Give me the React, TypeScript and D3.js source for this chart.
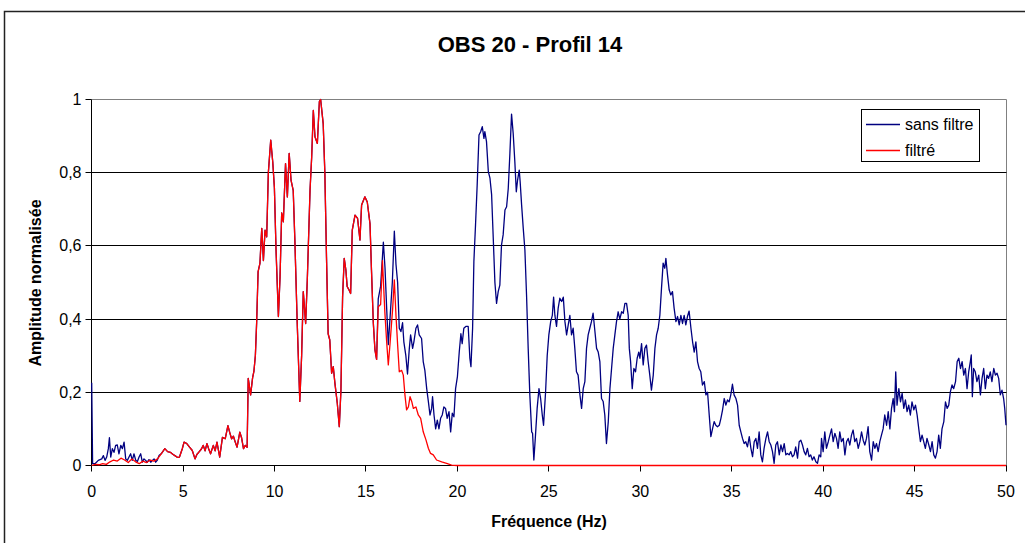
import React from 'react';
import * as d3 from 'd3';

const TITLE = 'OBS 20 - Profil 14';
const X_TITLE = 'Fréquence (Hz)';
const Y_TITLE = 'Amplitude normalisée';
const SERIES_NAMES = ['sans filtre', 'filtré'];
const xTicks = [0, 5, 10, 15, 20, 25, 30, 35, 40, 45, 50];
const yTicks = [0, 0.2, 0.4, 0.6, 0.8, 1];
const yTickLabels = ['0', '0,2', '0,4', '0,6', '0,8', '1'];

// [frequency (Hz), normalised amplitude]
const blueLow: [number, number][] = [
  [0, 0.226], [0.05, 0.005], [0.18, 0.005], [0.36, 0.014], [0.55, 0.018], [0.64, 0.027], [0.73, 0.014],
  [0.82, 0.023], [0.91, 0.046], [0.97, 0.076], [1.04, 0.023], [1.13, 0.046], [1.22, 0.036], [1.31, 0.055],
  [1.4, 0.056], [1.49, 0.032], [1.59, 0.055], [1.68, 0.046], [1.77, 0.064], [1.86, 0.018], [1.95, 0.014],
  [2.04, 0.023], [2.13, 0.032], [2.22, 0.014], [2.31, 0.032], [2.41, 0.014], [2.5, 0.011], [2.59, 0.023],
  [2.68, 0.032], [2.77, 0.009], [2.86, 0.018], [2.95, 0.014], [3.04, 0.009], [3.13, 0.016], [3.23, 0.009],
  [3.32, 0.014], [3.41, 0.018], [3.5, 0.009], [3.59, 0.015], [3.68, 0.027],
];

const redLow: [number, number][] = [
  [0, 0], [0.2, 0.003], [0.4, 0.002], [0.6, 0.005], [0.8, 0.003], [1.0, 0.01], [1.2, 0.015], [1.4, 0.012],
  [1.6, 0.02], [1.8, 0.015], [2.0, 0.008], [2.2, 0.018], [2.4, 0.01], [2.6, 0.005], [2.8, 0.012],
  [3.0, 0.008], [3.2, 0.015], [3.4, 0.012], [3.6, 0.018],
];

// band where both curves coincide
const commonBand: [number, number][] = [
  [3.8, 0.032], [4.0, 0.046], [4.15, 0.038], [4.3, 0.036], [4.45, 0.03], [4.55, 0.027], [4.7, 0.022],
  [4.8, 0.023], [4.95, 0.045], [5.05, 0.064], [5.2, 0.06], [5.35, 0.05], [5.5, 0.041], [5.65, 0.018],
  [5.75, 0.03], [5.85, 0.036], [6.0, 0.045], [6.1, 0.055], [6.2, 0.04], [6.3, 0.06], [6.4, 0.045],
  [6.5, 0.032], [6.65, 0.055], [6.75, 0.04], [6.85, 0.064], [7.0, 0.023], [7.15, 0.077], [7.3, 0.073],
  [7.45, 0.109], [7.55, 0.09], [7.65, 0.073], [7.75, 0.08], [7.85, 0.064], [7.95, 0.05], [8.1, 0.091],
  [8.2, 0.075], [8.3, 0.046], [8.4, 0.055], [8.5, 0.05], [8.56, 0.238], [8.69, 0.193], [8.8, 0.24],
  [8.87, 0.257], [8.95, 0.3], [9.02, 0.39], [9.1, 0.53], [9.2, 0.552], [9.3, 0.648], [9.39, 0.56],
  [9.48, 0.643], [9.57, 0.625], [9.66, 0.8], [9.79, 0.889], [9.9, 0.83], [9.99, 0.76], [10.08, 0.59],
  [10.21, 0.407], [10.3, 0.516], [10.39, 0.69], [10.48, 0.666], [10.6, 0.825], [10.7, 0.734],
  [10.8, 0.853], [10.9, 0.78], [11.02, 0.752], [11.11, 0.616], [11.24, 0.388], [11.38, 0.175],
  [11.48, 0.3], [11.57, 0.475], [11.7, 0.388], [11.79, 0.507], [11.94, 0.752], [12.03, 0.843],
  [12.12, 0.97], [12.21, 0.898], [12.34, 0.88], [12.45, 0.994], [12.52, 1.0], [12.66, 0.934],
  [12.75, 0.8], [12.84, 0.57], [12.93, 0.36], [13.02, 0.343], [13.12, 0.252], [13.21, 0.27],
  [13.3, 0.225], [13.43, 0.17], [13.54, 0.106], [13.63, 0.206], [13.72, 0.46], [13.81, 0.566],
  [13.9, 0.534], [13.97, 0.489], [14.07, 0.48], [14.16, 0.47], [14.25, 0.643], [14.4, 0.684],
  [14.54, 0.675], [14.67, 0.616], [14.76, 0.712], [14.94, 0.734], [15.07, 0.72], [15.22, 0.66],
  [15.3, 0.534], [15.4, 0.39], [15.49, 0.316], [15.58, 0.29],
];

const blueHigh: [number, number][] = [
  [15.67, 0.455], [15.8, 0.49], [15.95, 0.61], [16.04, 0.54], [16.13, 0.43], [16.22, 0.33], [16.35, 0.43],
  [16.44, 0.5], [16.55, 0.64], [16.64, 0.55], [16.73, 0.5], [16.82, 0.375], [16.91, 0.366], [17.0, 0.39],
  [17.07, 0.338], [17.18, 0.3], [17.27, 0.25], [17.37, 0.32], [17.44, 0.357], [17.55, 0.32], [17.62, 0.338],
  [17.73, 0.375], [17.82, 0.384], [17.91, 0.357], [18.04, 0.347], [18.13, 0.284], [18.22, 0.26],
  [18.32, 0.21], [18.41, 0.175], [18.5, 0.138], [18.59, 0.156], [18.64, 0.188], [18.72, 0.138],
  [18.81, 0.1], [18.9, 0.124], [18.99, 0.1], [19.08, 0.129], [19.17, 0.138], [19.26, 0.16], [19.35, 0.156],
  [19.44, 0.129], [19.54, 0.147], [19.63, 0.092], [19.72, 0.143], [19.81, 0.133], [19.9, 0.21],
  [20.0, 0.243], [20.1, 0.31], [20.19, 0.36], [20.26, 0.333], [20.35, 0.375], [20.46, 0.38], [20.59, 0.38],
  [20.68, 0.293], [20.74, 0.27], [20.83, 0.375], [20.9, 0.557], [20.99, 0.657], [21.08, 0.766],
  [21.18, 0.903], [21.27, 0.912], [21.36, 0.926], [21.45, 0.894], [21.5, 0.912], [21.59, 0.885],
  [21.69, 0.803], [21.78, 0.785], [21.87, 0.74], [21.96, 0.62], [22.05, 0.5], [22.14, 0.443],
  [22.23, 0.475], [22.32, 0.493], [22.41, 0.602], [22.5, 0.63], [22.6, 0.698], [22.69, 0.707],
  [22.78, 0.757], [22.87, 0.853], [22.96, 0.96], [23.05, 0.907], [23.14, 0.83], [23.22, 0.748],
  [23.29, 0.78], [23.38, 0.807], [23.43, 0.776], [23.51, 0.712], [23.6, 0.648], [23.69, 0.589],
  [23.78, 0.466], [23.87, 0.32], [23.96, 0.193], [24.06, 0.092], [24.11, 0.088], [24.18, 0.015],
  [24.27, 0.083], [24.36, 0.156], [24.46, 0.21], [24.55, 0.183], [24.64, 0.138], [24.71, 0.11],
  [24.82, 0.2], [24.91, 0.3], [25.0, 0.357], [25.1, 0.393], [25.19, 0.41], [25.26, 0.46], [25.33, 0.41],
  [25.42, 0.38], [25.51, 0.43], [25.6, 0.457], [25.7, 0.448], [25.79, 0.46], [25.88, 0.393],
  [25.97, 0.357], [26.06, 0.384], [26.15, 0.41], [26.24, 0.357], [26.33, 0.375], [26.42, 0.32],
  [26.51, 0.256], [26.6, 0.247], [26.7, 0.193], [26.79, 0.156], [26.88, 0.21], [26.97, 0.229],
  [27.06, 0.32], [27.15, 0.357], [27.24, 0.375], [27.33, 0.393], [27.42, 0.416], [27.52, 0.366],
  [27.61, 0.32], [27.7, 0.31], [27.79, 0.284], [27.88, 0.183], [27.97, 0.175], [28.06, 0.138],
  [28.15, 0.06], [28.25, 0.12], [28.34, 0.21], [28.43, 0.265], [28.52, 0.32], [28.61, 0.357],
  [28.7, 0.393], [28.79, 0.42], [28.88, 0.4], [28.98, 0.42], [29.07, 0.416], [29.16, 0.443],
  [29.25, 0.443], [29.34, 0.41], [29.4, 0.32], [29.47, 0.284], [29.56, 0.21], [29.65, 0.265],
  [29.74, 0.256], [29.83, 0.293], [29.92, 0.31], [29.98, 0.293], [30.07, 0.333], [30.16, 0.275],
  [30.25, 0.32], [30.34, 0.329], [30.43, 0.284], [30.52, 0.247], [30.61, 0.206], [30.71, 0.247],
  [30.8, 0.32], [30.89, 0.357], [30.98, 0.375], [31.07, 0.41], [31.16, 0.484], [31.25, 0.553],
  [31.34, 0.539], [31.4, 0.566], [31.49, 0.52], [31.58, 0.48], [31.67, 0.466], [31.76, 0.475],
  [31.85, 0.43], [31.95, 0.393], [32.04, 0.407], [32.13, 0.384], [32.22, 0.41], [32.31, 0.388],
  [32.4, 0.41], [32.49, 0.384], [32.58, 0.407], [32.67, 0.422], [32.77, 0.375], [32.86, 0.338],
  [32.95, 0.31], [33.04, 0.338], [33.13, 0.284], [33.22, 0.265], [33.31, 0.256], [33.4, 0.22],
  [33.5, 0.229], [33.59, 0.193], [33.68, 0.2], [33.77, 0.138], [33.86, 0.079], [33.95, 0.1],
  [34.04, 0.12], [34.13, 0.11], [34.22, 0.106], [34.32, 0.11], [34.41, 0.129], [34.5, 0.152],
  [34.59, 0.183], [34.68, 0.165], [34.77, 0.179], [34.86, 0.174], [34.95, 0.193], [35.04, 0.222],
  [35.13, 0.193], [35.23, 0.183], [35.32, 0.165], [35.41, 0.11], [35.5, 0.092], [35.59, 0.074],
  [35.68, 0.06], [35.77, 0.065], [35.86, 0.051], [35.96, 0.079], [36.05, 0.047], [36.14, 0.024],
  [36.23, 0.065], [36.32, 0.074], [36.41, 0.047], [36.5, 0.092], [36.59, 0.029], [36.68, 0.01],
  [36.77, 0.047], [36.87, 0.074], [36.96, 0.092], [37.05, 0.065], [37.14, 0.056], [37.23, 0.038],
  [37.32, 0.006], [37.41, 0.056], [37.5, 0.065], [37.6, 0.029], [37.69, 0.056], [37.78, 0.038],
  [37.87, 0.06], [37.96, 0.029], [38.05, 0.033], [38.14, 0.029], [38.23, 0.038], [38.32, 0.024],
  [38.41, 0.029], [38.5, 0.051], [38.6, 0.02], [38.69, 0.065], [38.78, 0.069], [38.87, 0.056],
  [38.96, 0.038], [39.05, 0.029], [39.14, 0.047], [39.23, 0.024], [39.32, 0.029], [39.41, 0.015],
  [39.5, 0.024], [39.6, 0.01], [39.69, 0.006], [39.78, 0.029], [39.87, 0.024], [39.91, 0.074],
  [40.0, 0.038], [40.09, 0.092], [40.18, 0.047], [40.28, 0.065], [40.37, 0.083], [40.46, 0.1],
  [40.55, 0.065], [40.64, 0.088], [40.73, 0.074], [40.82, 0.047], [40.91, 0.092], [41.0, 0.065],
  [41.1, 0.074], [41.19, 0.029], [41.28, 0.065], [41.37, 0.074], [41.46, 0.056], [41.55, 0.083],
  [41.64, 0.097], [41.73, 0.065], [41.82, 0.074], [41.92, 0.047], [42.01, 0.065], [42.1, 0.092],
  [42.19, 0.069], [42.28, 0.056], [42.37, 0.074], [42.46, 0.106], [42.55, 0.038], [42.65, 0.015],
  [42.74, 0.065], [42.83, 0.047], [42.92, 0.06], [43.01, 0.038], [43.1, 0.065], [43.19, 0.083],
  [43.28, 0.1], [43.37, 0.138], [43.47, 0.11], [43.56, 0.147], [43.65, 0.1], [43.74, 0.156],
  [43.83, 0.183], [43.9, 0.147], [43.97, 0.256], [44.04, 0.165], [44.14, 0.21], [44.23, 0.174],
  [44.32, 0.197], [44.41, 0.156], [44.5, 0.179], [44.59, 0.147], [44.68, 0.165], [44.77, 0.138],
  [44.86, 0.174], [44.96, 0.152], [45.05, 0.165], [45.14, 0.138], [45.23, 0.1], [45.32, 0.065],
  [45.41, 0.083], [45.5, 0.065], [45.59, 0.047], [45.68, 0.074], [45.78, 0.056], [45.87, 0.038],
  [45.96, 0.065], [46.05, 0.029], [46.14, 0.02], [46.23, 0.038], [46.32, 0.083], [46.41, 0.047],
  [46.5, 0.1], [46.6, 0.12], [46.69, 0.174], [46.78, 0.156], [46.87, 0.165], [46.96, 0.202],
  [47.05, 0.22], [47.14, 0.21], [47.24, 0.229], [47.33, 0.284], [47.42, 0.293], [47.51, 0.265],
  [47.6, 0.284], [47.69, 0.247], [47.78, 0.265], [47.87, 0.21], [47.96, 0.256], [48.05, 0.284],
  [48.1, 0.302], [48.16, 0.188], [48.23, 0.265], [48.32, 0.256], [48.41, 0.229], [48.51, 0.247],
  [48.6, 0.193], [48.69, 0.238], [48.78, 0.265], [48.87, 0.21], [48.96, 0.247], [49.05, 0.238],
  [49.14, 0.256], [49.23, 0.229], [49.33, 0.265], [49.42, 0.247], [49.51, 0.252], [49.6, 0.238],
  [49.69, 0.193], [49.78, 0.206], [49.87, 0.183], [49.93, 0.156], [50.0, 0.11],
];

const redTail: [number, number][] = [
  [15.67, 0.434], [15.8, 0.44], [15.9, 0.56], [16.03, 0.42], [16.13, 0.338], [16.22, 0.275], [16.31, 0.33],
  [16.46, 0.43], [16.55, 0.507], [16.64, 0.41], [16.73, 0.33], [16.82, 0.256], [16.95, 0.26],
  [17.04, 0.247], [17.13, 0.193], [17.22, 0.152], [17.32, 0.16], [17.41, 0.188], [17.5, 0.175],
  [17.59, 0.156], [17.73, 0.16], [17.86, 0.138], [17.99, 0.129], [18.13, 0.092], [18.28, 0.07],
  [18.41, 0.047], [18.53, 0.033], [18.68, 0.029], [18.86, 0.015], [19.14, 0.01], [19.41, 0.006],
  [19.68, 0.001], [19.96, 0], [50, 0],
];

const BLUE = '#000080';
const RED = '#ff0000';
const FONT = '"Liberation Sans", Arial, sans-serif';

export default function App() {
  const W = 1025;
  const H = 543;
  const x = d3.scaleLinear().domain([0, 50]).range([91.7, 1006]);
  const y = d3.scaleLinear().domain([0, 1]).range([465.5, 99.5]);
  const line = d3
    .line<[number, number]>()
    .x((d) => x(d[0]))
    .y((d) => y(d[1]));
  const blue = [...blueLow, ...commonBand, ...blueHigh];
  const red = [...redLow, ...commonBand, ...redTail];
  const crisp = (v: number) => Math.round(v - 0.5) + 0.5;
  const x0 = crisp(x(0));
  const x1 = crisp(x(50));
  const yb = crisp(y(0));
  const yt = crisp(y(1));

  return (
    <svg
      width={W}
      height={H}
      style={{ position: 'absolute', left: 0, top: 0, background: '#fff' }}
      fontFamily={FONT}
    >
      <rect x={0} y={0} width={W} height={H} fill="#fff" />
      {/* outer chart frame */}
      <path d={`M4.5,${H} V11.5 H${W}`} fill="none" stroke="#222" strokeWidth={1.5} />
      <text x={530} y={52} textAnchor="middle" fontSize={22} fontWeight="bold" fill="#000">
        {TITLE}
      </text>

      {/* plot area border (top / right) */}
      <path d={`M${x0},${yt} H${x1} V${yb}`} fill="none" stroke="#808080" strokeWidth={1} />
      {/* gridlines */}
      {yTicks
        .filter((t) => t > 0 && t < 1)
        .map((t) => (
          <line key={t} x1={x0} x2={x1} y1={crisp(y(t))} y2={crisp(y(t))} stroke="#000" strokeWidth={1} />
        ))}

      {/* axes */}
      <line x1={x0} x2={x0} y1={yt} y2={yb} stroke="#000" strokeWidth={1} />
      <line x1={x0} x2={x1} y1={yb} y2={yb} stroke="#000" strokeWidth={1} />
      {yTicks.map((t, i) => (
        <g key={t}>
          <line x1={x0 - 6} x2={x0} y1={crisp(y(t))} y2={crisp(y(t))} stroke="#000" />
          <text x={x0 - 10} y={y(t) + 5.5} textAnchor="end" fontSize={16} fill="#000">
            {yTickLabels[i]}
          </text>
        </g>
      ))}
      {xTicks.map((t) => (
        <g key={t}>
          <line x1={crisp(x(t))} x2={crisp(x(t))} y1={yb} y2={yb + 6} stroke="#000" />
          <text x={x(t)} y={yb + 31} textAnchor="middle" fontSize={16} fill="#000">
            {t}
          </text>
        </g>
      ))}

      <text x={549} y={527} textAnchor="middle" fontSize={16} fontWeight="bold" fill="#000">
        {X_TITLE}
      </text>
      <text
        transform={`translate(41,283) rotate(-90)`}
        textAnchor="middle"
        fontSize={16}
        fontWeight="bold"
        fill="#000"
      >
        {Y_TITLE}
      </text>

      {/* series */}
      <path d={line(blue) || ''} fill="none" stroke={BLUE} strokeWidth={1.3} strokeLinejoin="round" />
      <path d={line(red) || ''} fill="none" stroke={RED} strokeWidth={1.3} strokeLinejoin="round" />

      {/* legend */}
      <rect x={861.5} y={109.5} width={118} height={52} fill="#fff" stroke="#000" strokeWidth={1} />
      <line x1={866} x2={900} y1={124.5} y2={124.5} stroke={BLUE} strokeWidth={1.3} />
      <line x1={866} x2={900} y1={150.5} y2={150.5} stroke={RED} strokeWidth={1.3} />
      <text x={905} y={130} fontSize={16} fill="#000">
        {SERIES_NAMES[0]}
      </text>
      <text x={905} y={156} fontSize={16} fill="#000">
        {SERIES_NAMES[1]}
      </text>
    </svg>
  );
}
